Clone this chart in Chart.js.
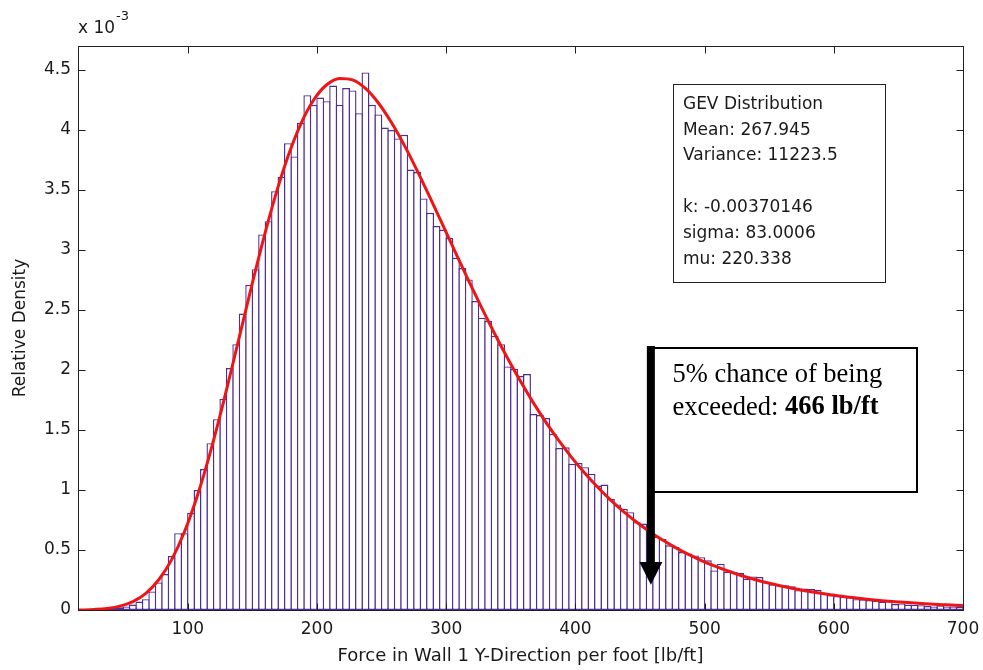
<!DOCTYPE html>
<html><head><meta charset="utf-8">
<script src="https://cdn.jsdelivr.net/npm/chart.js@4.4.1/dist/chart.umd.min.js"></script>
<style>html,body{margin:0;padding:0;background:#fff;}canvas{display:block;}</style>
</head><body>
<canvas id="c" width="983" height="670"></canvas>
<script>
// Histogram bins: width 5 lb/ft, first bin starts at 15 lb/ft. Heights in units of 1e-3.
const binStart = 15;
const binWidth = 5;
const densityValues = [
  0.003, 0.003, 0.004, 0.006, 0.010, 0.018, 0.022, 0.030, 0.045, 0.070,
  0.090, 0.155, 0.230, 0.300, 0.450, 0.640, 0.640, 0.810, 1.000, 1.175,
  1.390, 1.590, 1.760, 2.016, 2.215, 2.470, 2.710, 2.840, 3.130, 3.240,
  3.490, 3.610, 3.890, 3.780, 4.060, 4.290, 4.210, 4.270, 4.240, 4.370,
  4.210, 4.350, 4.330, 4.140, 4.480, 4.210, 4.130, 4.020, 4.000, 3.930,
  3.960, 3.670, 3.650, 3.430, 3.310, 3.200, 3.170, 3.100, 2.935, 2.850,
  2.755, 2.575, 2.436, 2.410, 2.284, 2.215, 2.030, 2.010, 1.950, 1.966,
  1.633, 1.625, 1.600, 1.467, 1.350, 1.356, 1.218, 1.226, 1.190, 1.135,
  1.037, 1.046, 0.927, 0.880, 0.843, 0.815, 0.732, 0.720, 0.660, 0.610,
  0.594, 0.539, 0.525, 0.483, 0.470, 0.455, 0.440, 0.414, 0.330, 0.386,
  0.317, 0.317, 0.310, 0.260, 0.280, 0.275, 0.234, 0.214, 0.210, 0.206,
  0.198, 0.165, 0.179, 0.175, 0.168, 0.137, 0.125, 0.117, 0.110, 0.107,
  0.090, 0.088, 0.083, 0.078, 0.070, 0.075, 0.050, 0.055, 0.045, 0.042,
  0.040, 0.033, 0.030, 0.038, 0.030, 0.030, 0.028
];
// Fitted GEV curve (x in lb/ft, y in units of 1e-3)
const fitX = [15, 17.5, 27.5, 37.5, 47.5, 57.5, 67.5, 77.5, 87.5, 97.5,
  107.5, 117.5, 127.5, 137.5, 147.5, 157.5, 167.5, 177.5, 187.5, 197.5,
  207.5, 217.5, 227.5, 237.5, 247.5, 257.5, 267.5, 277.5, 287.5, 297.5,
  307.5, 317.5, 327.5, 337.5, 347.5, 357.5, 367.5, 377.5, 387.5, 397.5,
  407.5, 417.5, 427.5, 437.5, 447.5, 457.5, 467.5, 477.5, 487.5, 497.5,
  507.5, 517.5, 527.5, 537.5, 547.5, 557.5, 567.5, 577.5, 587.5, 597.5,
  607.5, 617.5, 627.5, 637.5, 647.5, 657.5, 667.5, 677.5, 687.5, 697.5, 700];
const fitY = [0.001, 0.001, 0.005, 0.013, 0.032, 0.070, 0.139, 0.252, 0.420, 0.654,
  0.956, 1.318, 1.728, 2.169, 2.616, 3.047, 3.440, 3.779, 4.052, 4.252,
  4.377, 4.430, 4.417, 4.346, 4.225, 4.064, 3.874, 3.662, 3.436, 3.205,
  2.971, 2.740, 2.517, 2.302, 2.098, 1.906, 1.726, 1.560, 1.407, 1.266,
  1.138, 1.021, 0.914, 0.818, 0.731, 0.653, 0.583, 0.520, 0.463, 0.412,
  0.367, 0.327, 0.290, 0.258, 0.229, 0.204, 0.181, 0.161, 0.143, 0.127,
  0.112, 0.100, 0.088, 0.078, 0.069, 0.062, 0.055, 0.048, 0.043, 0.038, 0.036];
const xTickValues = [100, 200, 300, 400, 500, 600, 700];
const yTickValues = [0, 0.5, 1, 1.5, 2, 2.5, 3, 3.5, 4, 4.5];
const xRange = [15, 700];
const yRange = [0, 4.7];
const statsLines = ['GEV Distribution', 'Mean: 267.945', 'Variance: 11223.5', '', 'k: -0.00370146', 'sigma: 83.0006', 'mu: 220.338'];
const noteLine1 = '5% chance of being';
const noteLine2a = 'exceeded: ';
const noteLine2b = '466 lb/ft';
// annotation anchors in data units
const arrowX = 458.4, arrowTopY = 2.20, arrowHeadY = 0.40, arrowTipY = 0.21;
const noteBox = {x0: 458.9, x1: 664.1, y0: 2.187, y1: 0.99};
const statsBox = {x0: 475.5, x1: 639.6, y0: 4.38, y1: 2.73};

const FONT = '"DejaVu Sans", sans-serif';
const SERIF = '"Liberation Serif", "Times New Roman", serif';
const histData = densityValues.map((v, i) => ({x: binStart + binWidth * (i + 0.5), y: v}));
const fitData = fitX.map((xv, i) => ({x: xv, y: fitY[i]}));

const decor = {
  id: 'decor',
  afterDatasetsDraw(chart) {
    const {ctx, chartArea: a, scales: {x, y}} = chart;
    ctx.save();
    // axes box
    ctx.strokeStyle = '#202020';
    ctx.lineWidth = 1;
    const L = Math.round(a.left) + 0.5, T = Math.round(a.top) + 0.5, R = Math.round(a.right) + 0.5, B = Math.round(a.bottom) + 0.5;
    ctx.strokeRect(L, T, R - L, B - T);
    const tl = 7;
    ctx.beginPath();
    xTickValues.forEach(v => {
      const px = Math.round(x.getPixelForValue(v)) + 0.5;
      ctx.moveTo(px, B); ctx.lineTo(px, B - tl);
      ctx.moveTo(px, T); ctx.lineTo(px, T + tl);
    });
    yTickValues.forEach(v => {
      const py = Math.round(y.getPixelForValue(v)) + 0.5;
      ctx.moveTo(L, py); ctx.lineTo(L + tl, py);
      ctx.moveTo(R, py); ctx.lineTo(R - tl, py);
    });
    ctx.stroke();
    // exponent label
    ctx.fillStyle = '#1a1a1a';
    ctx.textBaseline = 'middle';
    ctx.textAlign = 'left';
    ctx.font = '17px ' + FONT;
    ctx.fillText('x 10', a.left, 29);
    const w = ctx.measureText('x 10').width;
    ctx.font = '13px ' + FONT;
    ctx.fillText('-3', a.left + w + 1, 17);

    // stats box
    const sx0 = x.getPixelForValue(statsBox.x0), sx1 = x.getPixelForValue(statsBox.x1);
    const sy0 = y.getPixelForValue(statsBox.y0), sy1 = y.getPixelForValue(statsBox.y1);
    ctx.fillStyle = '#ffffff';
    ctx.fillRect(sx0, sy0, sx1 - sx0, sy1 - sy0);
    ctx.strokeStyle = '#202020';
    ctx.lineWidth = 1;
    ctx.strokeRect(Math.round(sx0) + 0.5, Math.round(sy0) + 0.5, Math.round(sx1 - sx0), Math.round(sy1 - sy0));
    ctx.fillStyle = '#1a1a1a';
    ctx.font = '17px ' + FONT;
    statsLines.forEach((s, i) => ctx.fillText(s, sx0 + 10, sy0 + 20 + i * 25.8));

    // note box
    const nx0 = x.getPixelForValue(noteBox.x0), nx1 = x.getPixelForValue(noteBox.x1);
    const ny0 = y.getPixelForValue(noteBox.y0), ny1 = y.getPixelForValue(noteBox.y1);
    ctx.fillStyle = '#ffffff';
    ctx.fillRect(nx0, ny0, nx1 - nx0, ny1 - ny0);
    ctx.strokeStyle = '#000000';
    ctx.lineWidth = 2;
    ctx.strokeRect(Math.round(nx0), Math.round(ny0), Math.round(nx1 - nx0), Math.round(ny1 - ny0));
    ctx.fillStyle = '#000000';
    ctx.font = '26.5px ' + SERIF;
    ctx.fillText(noteLine1, nx0 + 21, ny0 + 27);
    ctx.fillText(noteLine2a, nx0 + 21, ny0 + 60);
    const w2 = ctx.measureText(noteLine2a).width;
    ctx.font = 'bold 26.5px ' + SERIF;
    ctx.fillText(noteLine2b, nx0 + 21 + w2, ny0 + 60);

    // arrow
    const ax = x.getPixelForValue(arrowX);
    const aTop = y.getPixelForValue(arrowTopY), aHead = y.getPixelForValue(arrowHeadY), aTip = y.getPixelForValue(arrowTipY);
    ctx.fillStyle = '#000000';
    ctx.fillRect(ax - 4, aTop, 8, aHead - aTop + 1);
    ctx.beginPath();
    ctx.moveTo(ax - 11.5, aHead);
    ctx.lineTo(ax + 11.5, aHead);
    ctx.lineTo(ax, aTip);
    ctx.closePath();
    ctx.fill();
    ctx.restore();
  }
};

new Chart(document.getElementById('c'), {
  type: 'bar',
  data: {
    datasets: [
      {
        type: 'line',
        data: fitData,
        borderColor: '#ee1515',
        borderWidth: 3,
        pointRadius: 0,
        fill: false,
        cubicInterpolationMode: 'monotone',
        order: 0
      },
      {
        type: 'bar',
        data: histData,
        backgroundColor: '#ffffff',
        borderColor: '#4d2d96',
        borderWidth: 1.4,
        borderSkipped: false,
        barPercentage: 1.217,
        categoryPercentage: 1,
        order: 1
      }
    ]
  },
  options: {
    responsive: false,
    animation: false,
    devicePixelRatio: 1,
    layout: {padding: {left: 0, right: 20, top: 46, bottom: 0}},
    plugins: {legend: {display: false}, tooltip: {enabled: false}},
    scales: {
      x: {
        type: 'linear',
        offset: false,
        min: xRange[0], max: xRange[1],
        afterBuildTicks: s => { s.ticks = xTickValues.map(v => ({value: v})); },
        afterFit: s => { s.height = 60; s.paddingLeft = 0; s.paddingRight = 0; },
        grid: {display: false, drawTicks: false},
        border: {display: false},
        ticks: {padding: 9, color: '#1a1a1a', font: {family: FONT, size: 17}, maxRotation: 0, autoSkip: false, callback: v => String(v)},
        title: {display: true, text: 'Force in Wall 1 Y-Direction per foot [lb/ft]', color: '#1a1a1a', font: {family: FONT, size: 18}, padding: {top: 0, bottom: 3}}
      },
      y: {
        min: yRange[0], max: yRange[1],
        afterBuildTicks: s => { s.ticks = yTickValues.map(v => ({value: v})); },
        afterFit: s => { s.width = 78; s.paddingTop = 0; s.paddingBottom = 0; },
        grid: {display: false, drawTicks: false},
        border: {display: false},
        ticks: {padding: 7, color: '#1a1a1a', font: {family: FONT, size: 17}, autoSkip: false, callback: v => String(v)},
        title: {display: true, text: 'Relative Density', color: '#1a1a1a', font: {family: FONT, size: 17}, padding: {top: 10, bottom: 0}}
      }
    }
  },
  plugins: [decor]
});
</script>
</body></html>
